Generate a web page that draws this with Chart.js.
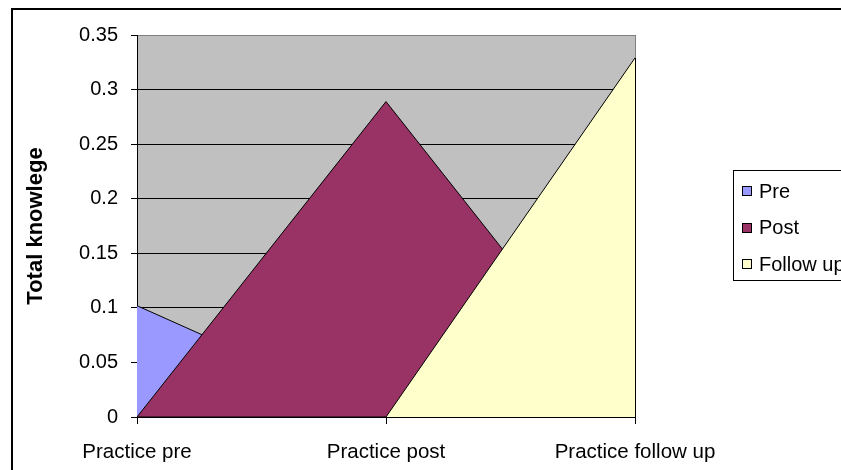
<!DOCTYPE html>
<html>
<head>
<meta charset="utf-8">
<script src="https://cdn.jsdelivr.net/npm/chart.js@4"></script>
<style>
  html, body { margin: 0; padding: 0; background: #ffffff; }
  #wrap { position: relative; width: 841px; height: 470px; }
</style>
</head>
<body>
<div id="wrap"><canvas id="chart" width="841" height="470"></canvas></div>
<script>
// Categories along the x axis
const categories = ['Practice pre', 'Practice post', 'Practice follow up'];

// Series values
const seriesNames = ['Pre', 'Post', 'Follow up'];
const preValues = [0.102, 0, 0];
const postValues = [0, 0.289, 0];
const followUpValues = [0, 0, 0.329];

// Y axis tick labels
const yTickLabels = ['0', '0.05', '0.1', '0.15', '0.2', '0.25', '0.3', '0.35'];

const FONT = "'Liberation Sans', Arial, sans-serif";
const seriesColors = ['#9999FF', '#993366', '#FFFFCC'];

// Grey plot background and outer frame
const backdrop = {
  id: 'backdrop',
  beforeDraw(chart) {
    const { ctx, chartArea: a } = chart;
    ctx.save();
    ctx.fillStyle = '#ffffff';
    ctx.fillRect(0, 0, chart.width, chart.height);
    ctx.fillStyle = '#C0C0C0';
    ctx.fillRect(a.left, a.top, a.right - a.left, a.bottom - a.top);
    ctx.restore();
  },
  afterDraw(chart) {
    const { ctx } = chart;
    ctx.save();
    ctx.strokeStyle = '#000000';
    ctx.lineWidth = 2;
    ctx.strokeRect(12, 9, chart.width + 20, chart.height + 20);
    ctx.restore();
  }
};

// Closing edge of the last series at the right end of the plot
const rightEdge = {
  id: 'rightEdge',
  afterDatasetsDraw(chart) {
    const { ctx, scales } = chart;
    const last = categories.length - 1;
    const x = Math.round(scales.x.getPixelForValue(last)) + 0.5;
    const yTop = scales.y.getPixelForValue(followUpValues[last]);
    const yBot = scales.y.getPixelForValue(0);
    ctx.save();
    ctx.strokeStyle = '#808080';
    ctx.lineWidth = 1;
    ctx.beginPath();
    ctx.moveTo(x, chart.chartArea.top);
    ctx.lineTo(x, yTop);
    ctx.stroke();
    ctx.strokeStyle = '#000000';
    ctx.beginPath();
    ctx.moveTo(x, yTop);
    ctx.lineTo(x, yBot);
    ctx.stroke();
    ctx.restore();
  }
};

// Boxed legend on the right
const boxLegend = {
  id: 'boxLegend',
  afterDraw(chart) {
    const { ctx } = chart;
    const left = 733.5, top = 170.5, height = 110;
    ctx.save();
    ctx.fillStyle = '#ffffff';
    ctx.fillRect(left, top, chart.width - left + 10, height);
    ctx.strokeStyle = '#000000';
    ctx.lineWidth = 1;
    ctx.strokeRect(left, top, chart.width - left + 10, height);
    ctx.font = '20px ' + FONT;
    ctx.textBaseline = 'middle';
    chart.data.datasets.forEach((ds, i) => {
      const cy = 191 + i * 36.5;
      ctx.fillStyle = ds.backgroundColor;
      ctx.fillRect(742, Math.round(cy - 5), 10, 10);
      ctx.strokeStyle = '#000000';
      ctx.strokeRect(742.5, Math.round(cy - 5) + 0.5, 9, 9);
      ctx.fillStyle = '#000000';
      ctx.fillText(ds.label, 759, cy + 1);
    });
    ctx.restore();
  }
};

const makeSeries = (i, data, order) => ({
  label: seriesNames[i],
  data: data,
  backgroundColor: seriesColors[i],
  borderColor: '#000000',
  borderWidth: 1,
  pointRadius: 0,
  pointHoverRadius: 0,
  tension: 0,
  fill: 'origin',
  order: order
});

new Chart(document.getElementById('chart'), {
  type: 'line',
  data: {
    labels: categories,
    datasets: [
      makeSeries(0, preValues, 3),
      makeSeries(1, postValues, 2),
      makeSeries(2, followUpValues, 1)
    ]
  },
  options: {
    responsive: false,
    animation: false,
    events: [],
    layout: { padding: { left: 0, top: 35, right: 206, bottom: 0 } },
    plugins: {
      legend: { display: false },
      tooltip: { enabled: false },
      title: { display: false }
    },
    scales: {
      x: {
        type: 'category',
        offset: false,
        afterFit(scale) { scale.height = 53; },
        grid: {
          drawOnChartArea: false,
          drawTicks: true,
          tickLength: 7,
          tickColor: '#000000',
          color: '#000000'
        },
        border: { display: true, color: '#000000', width: 1 },
        ticks: {
          color: '#000000',
          font: { family: FONT, size: 20.5 },
          padding: 16,
          maxRotation: 0,
          autoSkip: false
        }
      },
      y: {
        min: 0,
        max: 0.35,
        afterFit(scale) { scale.width = 137; },
        ticks: {
          stepSize: 0.05,
          color: '#000000',
          font: { family: FONT, size: 20 },
          padding: 13,
          callback: (v, i) => yTickLabels[i]
        },
        grid: {
          drawTicks: true,
          tickLength: 6,
          tickColor: '#000000',
          color: (ctx) => (ctx.index === yTickLabels.length - 1 ? '#808080' : '#000000'),
          lineWidth: 1
        },
        border: { display: true, color: '#000000', width: 1 },
        title: {
          display: true,
          text: 'Total knowlege',
          color: '#000000',
          font: { family: FONT, size: 22, weight: 'bold' },
          padding: { top: 23, bottom: 0 }
        }
      }
    }
  },
  plugins: [backdrop, rightEdge, boxLegend]
});
</script>
</body>
</html>
